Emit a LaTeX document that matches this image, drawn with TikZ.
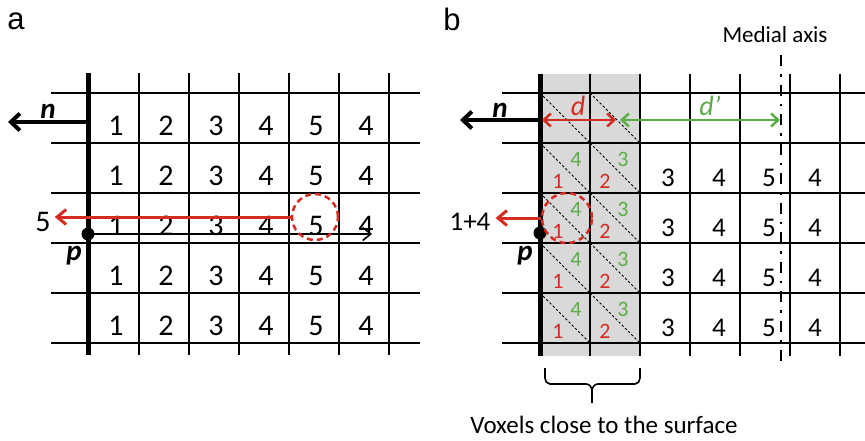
\documentclass[tikz,border=0pt]{standalone}
\usepackage{fontspec}
\setmainfont{Carlito}
\newfontfamily\panelfont{Liberation Sans}
\usetikzlibrary{arrows.meta}

\definecolor{dred}{RGB}{212,44,34}
\definecolor{dgreen}{RGB}{92,172,72}
\definecolor{band}{RGB}{217,217,217}

\tikzset{
  gridline/.style={line width=2pt, black},
  wall/.style={line width=5pt, black},
  barb/.style={-{Straight Barb[length=9pt,width=17pt]}},
  numa/.style={anchor=base, inner sep=0pt, font=\fontsize{30}{34}\selectfont},
  numb/.style={anchor=base, inner sep=0pt, font=\fontsize{27}{31}\selectfont},
  small/.style={anchor=base, inner sep=0pt, font=\fontsize{22}{26}\selectfont},
  vec/.style={anchor=base, inner sep=0pt, font=\fontsize{29}{33}\selectfont\bfseries\itshape},
  caption/.style={anchor=base, inner sep=0pt, font=\fontsize{25}{30}\selectfont},
  panel/.style={anchor=base, inner sep=0pt, font=\fontsize{31}{36}\selectfont\panelfont},
  ring/.style={circle, draw=dred, line width=2.5pt, dash pattern=on 6pt off 4pt, inner sep=0pt},
  dot/.style={circle, fill=black, inner sep=0pt, minimum size=13pt},
  diag/.style={line width=0.8pt, dash pattern=on 2.5pt off 2pt},
}

\begin{document}
\begin{tikzpicture}[x=1pt,y=-1pt]
\useasboundingbox (0,0) rectangle (865,440);

% ---------- panel a ----------
\node[panel] (la) at (16,29) {a};
\foreach \y in {93,143,193,243,293,343}
  \draw[gridline] (51,\y) -- (420,\y);
\foreach \x in {139,189,239,289,339,389}
  \draw[gridline] (\x,73) -- (\x,355);
\draw[wall] (88,73) -- (88,355);

\foreach \r in {0,...,4}
  \foreach \v [count=\c from 0] in {1,2,3,4,5,4}
    \node[numa] (a\r\c) at ({116+50*\c},{135+50*\r}) {\v};

% surface normal
\coordinate (na0) at (88,122);
\coordinate (na1) at (8,122);
\draw[line width=4pt, barb] (na0) -- (na1);
\node[vec] (nla) at (48,118) {n};

% ray from p through the object
\node[dot] (pa) at (88,234) {};
\node[vec] (pla) at (74,260) {p};
\coordinate (ra) at (372,234);
\draw[line width=1.6pt, -{Straight Barb[length=8pt,width=13pt]}] (pa.center) -- (ra);

% maximum value found along the ray
\node[ring, minimum size=46pt] (ca) at (315,217) {};
\node[numa] (va) at (43,231) {5};
\draw[dred, line width=3pt, -{Straight Barb[length=9pt,width=15pt]}]
  (ca.west) -- ([xshift=4pt]ca.west -| va.east);

% ---------- panel b ----------
\node[panel] (lb) at (452,30) {b};
\fill[band] (540,74) rectangle (640,356);
\foreach \r in {0,...,4}
  \foreach \x in {540,590}
    \draw[diag] (\x,{93+50*\r}) -- ({\x+50},{143+50*\r});
\foreach \y in {93,143,193,243,293,343}
  \draw[gridline] (502,\y) -- (865,\y);
\foreach \x in {590,640,690,740,790,840}
  \draw[gridline] (\x,74) -- (\x,356);
\draw[wall] (540,74) -- (540,356);

% medial axis
\coordinate (m0) at (781,55);
\coordinate (m1) at (781,362);
\draw[line width=2.8pt, dash pattern=on 11pt off 8pt on 2.5pt off 8pt] (m0) -- (m1);
\node[caption, font=\fontsize{23}{28}\selectfont] (mt) at (775,42) {Medial axis};

\foreach \r in {0,...,3} {
  \node[small, dred]   (r1\r) at (558,{188+50*\r}) {1};
  \node[small, dgreen] (g4\r) at (576,{166+50*\r}) {4};
  \node[small, dred]   (r2\r) at (605,{188+50*\r}) {2};
  \node[small, dgreen] (g3\r) at (623,{166+50*\r}) {3};
  \foreach \v/\x [count=\c] in {3/668,4/719,5/769,4/815}
    \node[numb] (b\r\c) at (\x,{186+50*\r}) {\v};
}

% surface normal and distances
\coordinate (nb0) at (540,120);
\coordinate (nb1) at (460,120);
\draw[line width=4pt, barb] (nb0) -- (nb1);
\node[vec] (nlb) at (500,117) {n};

\coordinate (d0) at (542,120);
\coordinate (d1) at (616,120);
\coordinate (e0) at (620,120);
\coordinate (e1) at (780,120);
\draw[dred, line width=2.5pt, {Straight Barb[length=7pt,width=13pt]}-{Straight Barb[length=7pt,width=13pt]}] (d0) -- (d1);
\draw[dgreen, line width=2.5pt, {Straight Barb[length=7pt,width=13pt]}-{Straight Barb[length=7pt,width=13pt]}] (e0) -- (e1);
\node[anchor=base, inner sep=0pt, dred, font=\fontsize{28}{30}\selectfont\itshape] (dl) at (578,115) {d};
\node[anchor=base, inner sep=0pt, dgreen, font=\fontsize{28}{30}\selectfont\itshape] (dpl) at (710,115) {d’};

% point p and its combined value
\node[dot] (pb) at (540,233) {};
\node[vec] (plb) at (525,260) {p};
\node[ring, minimum size=50pt] (cb) at (567,218) {};
\node[numb] (vb) at (470,230) {1+4};
\draw[dred, line width=3pt, -{Straight Barb[length=9pt,width=15pt]}]
  (cb.west) -- ([xshift=5pt]cb.west -| vb.east);

% brace under the surface band
\draw[line width=1.6pt, line join=round]
  (545,368) -- (545,378) to[out=-90,in=180] (550,384) -- (586,384)
  to[out=0,in=90] (592,391) -- (592,403);
\draw[line width=1.6pt, line join=round]
  (640,368) -- (640,378) to[out=-90,in=0] (635,384) -- (598,384)
  to[out=180,in=90] (592,391);
\node[caption] (vt) at (604,433) {Voxels close to the surface};
\end{tikzpicture}
\end{document}
